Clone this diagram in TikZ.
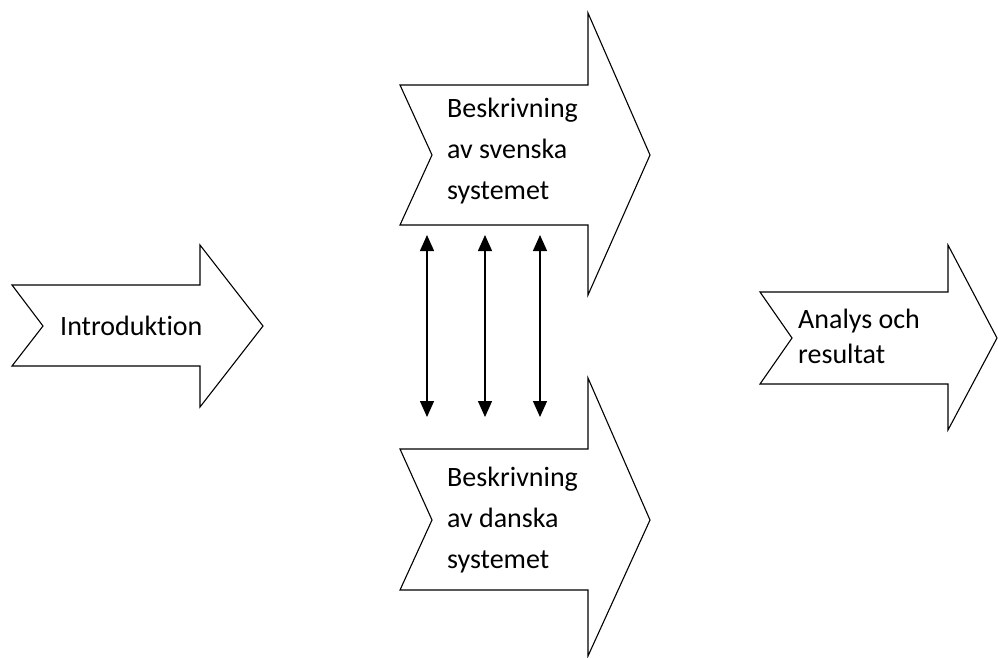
\documentclass[tikz,border=0pt]{standalone}
\usepackage{fontspec}
\setmainfont{Carlito}[Ligatures=NoCommon]
\usetikzlibrary{arrows.meta}
\begin{document}
\begin{tikzpicture}[x=1pt,y=-1pt,
        chevron/.style={draw,line width=1.1pt,line join=miter,fill=white},
        label/.style={font=\fontsize{28}{41}\selectfont,align=left,inner sep=0pt,anchor=west},
        link/.style={{Triangle[length=16pt,width=14pt]}-{Triangle[length=16pt,width=14pt]},line width=1.4pt}]
    \useasboundingbox (0,0) rectangle (998,657);
    \draw[chevron] (12,285) -- (200,285) -- (200,245) -- (263,326) -- (200,407) -- (200,366) -- (12,366) -- (43,326) -- cycle;
    \draw[chevron] (400,85) -- (588,85) -- (588,13) -- (650,155) -- (588,295) -- (588,225) -- (400,225) -- (432,155) -- cycle;
    \draw[chevron] (400,449) -- (588,449) -- (588,378) -- (650,520) -- (588,656) -- (588,590) -- (400,590) -- (432,520) -- cycle;
    \draw[chevron] (760,292) -- (948,292) -- (948,245) -- (997,338) -- (948,430) -- (948,384) -- (760,384) -- (792,338) -- cycle;
    \node[label] (intro) at (60,326) {Introduktion};
    \node[label] (svensk) at (447,151) {Beskrivning\\av svenska\\systemet};
    \node[label] (dansk) at (447,520) {Beskrivning\\av danska\\systemet};
    \node[label,font=\fontsize{28}{35}\selectfont] (analys) at (798,336) {Analys och\\resultat};
    \coordinate (s1) at (427,235); \coordinate (d1) at (427,417);
    \coordinate (s2) at (485,235); \coordinate (d2) at (485,417);
    \coordinate (s3) at (540,235); \coordinate (d3) at (540,417);
    \draw[link] (s1) -- (d1);
    \draw[link] (s2) -- (d2);
    \draw[link] (s3) -- (d3);
\end{tikzpicture}
\end{document}
